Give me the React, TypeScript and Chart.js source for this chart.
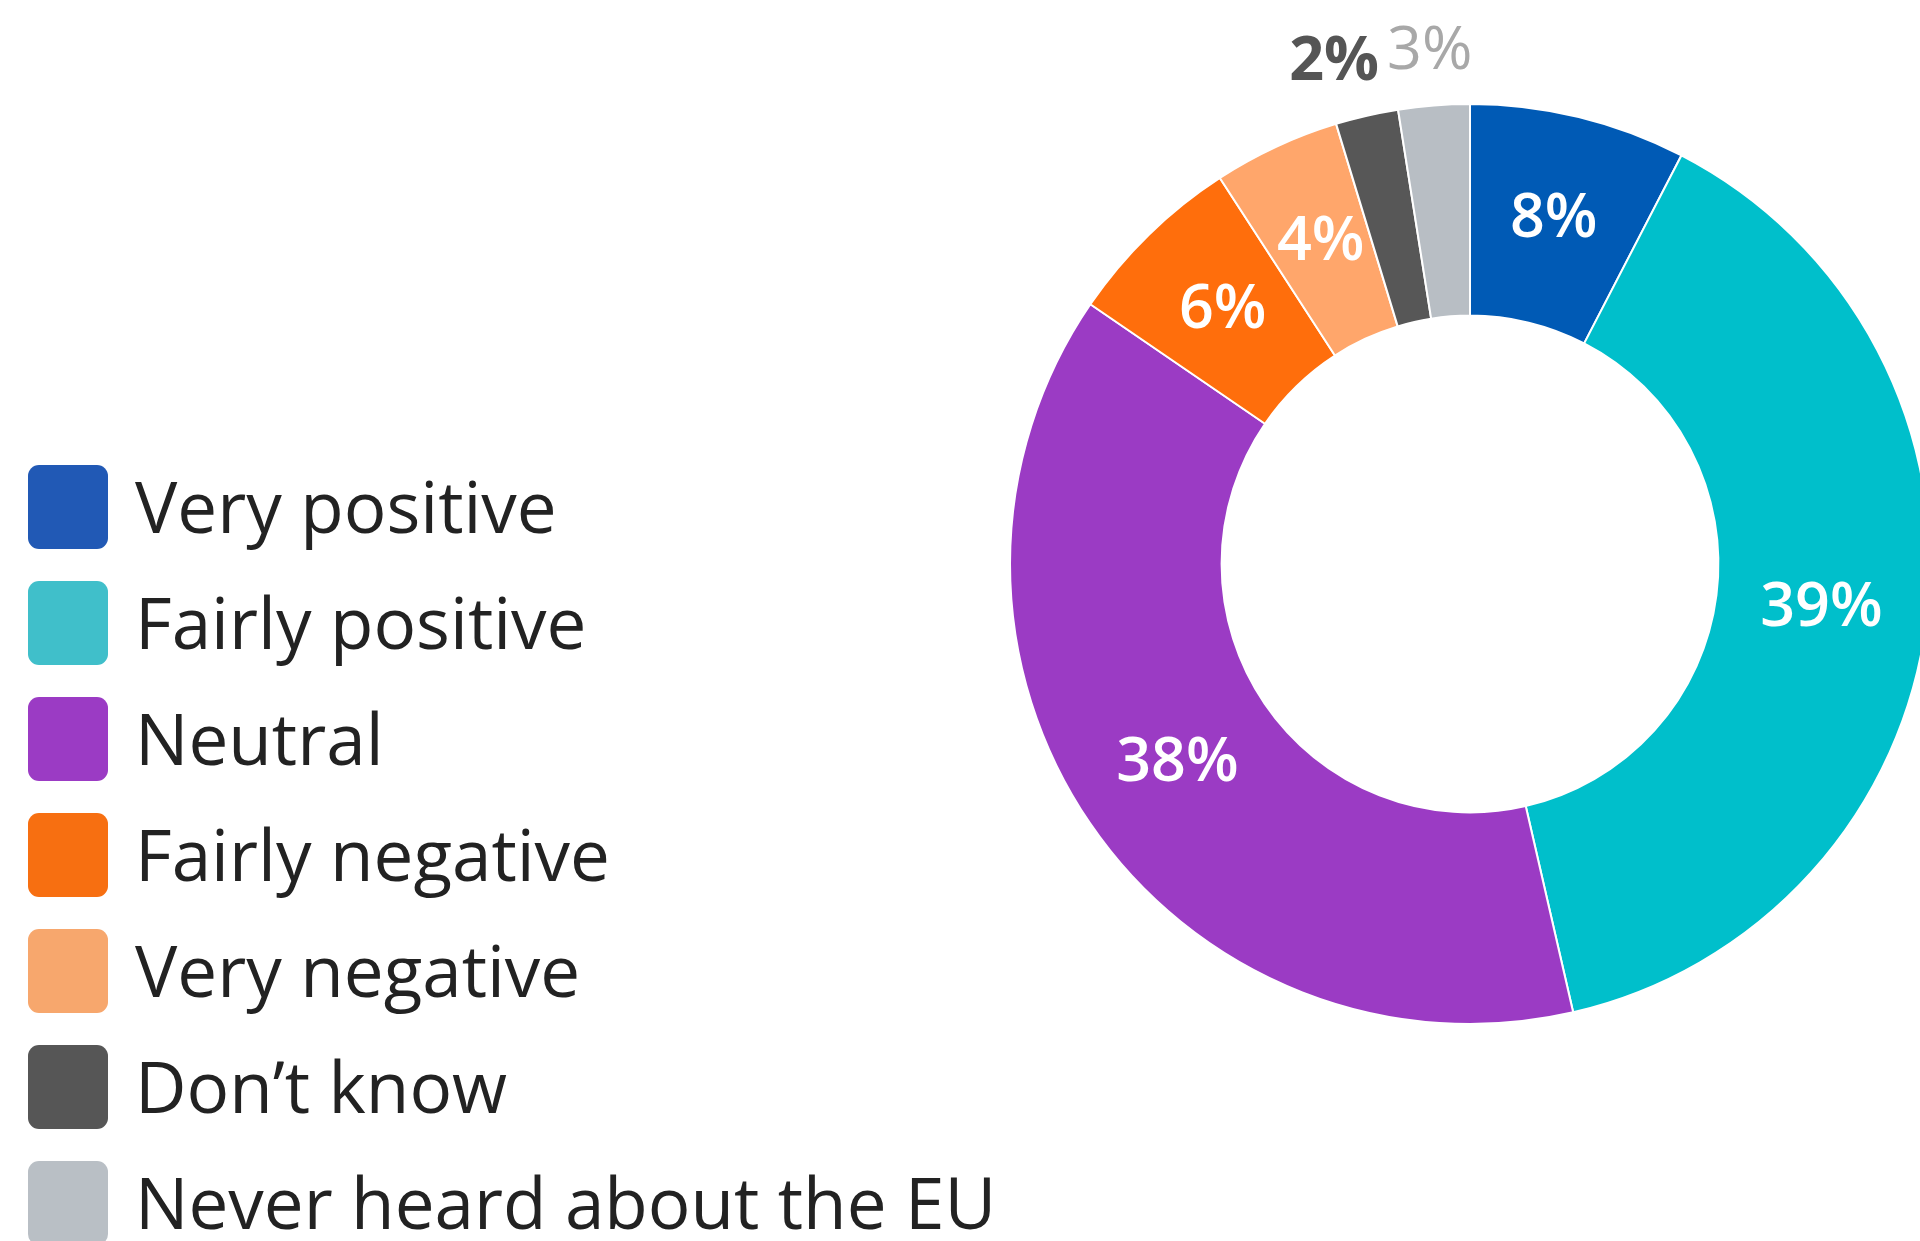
import React, { useEffect, useRef } from "react";
import { Chart, registerables } from "chart.js";

Chart.register(...registerables);

const categories = [
  "Very positive",
  "Fairly positive",
  "Neutral",
  "Fairly negative",
  "Very negative",
  "Don’t know",
  "Never heard about the EU",
];
// arc sizes
const shares = [7.6, 38.8, 38.15, 6.3, 4.45, 2.2, 2.5];
// printed percentage labels
const shareLabels = [8, 39, 38, 6, 4, 2, 3];
const sliceColors = ["#005AB5", "#00BFCB", "#9B3BC4", "#FF6E0C", "#FFA66B", "#575757", "#B8BEC4"];
const legendColors = ["#2159B5", "#40BFCA", "#9B3BC4", "#F76F11", "#F7A76D", "#565656", "#B9BFC5"];
const valueLabelColors = ["#FFFFFF", "#FFFFFF", "#FFFFFF", "#FFFFFF", "#FFFFFF", "#555555", "#A8A8A8"];
const valueLabelWeights = [600, 600, 600, 600, 600, 700, 500];
const OUTSIDE_MAX = 3;

const CANVAS_W = 1940;
const CANVAS_H = 1241;

const valueLabelsPlugin = {
  id: "valueLabels",
  afterDatasetsDraw(chart: any) {
    const ctx = chart.ctx as CanvasRenderingContext2D;
    const meta = chart.getDatasetMeta(0);
    const items: any[] = [];
    meta.data.forEach((arc: any, i: number) => {
      const p = arc.getProps(["x", "y", "startAngle", "endAngle", "innerRadius", "outerRadius"], true);
      const mid = (p.startAngle + p.endAngle) / 2;
      const txt = `${shareLabels[i]}%`;
      const outside = shareLabels[i] <= OUTSIDE_MAX;
      const r = outside ? p.outerRadius + 54 : (p.innerRadius + p.outerRadius) / 2;
      ctx.font = `${valueLabelWeights[i]} 61px "Open Sans", sans-serif`;
      const w = ctx.measureText(txt).width;
      items.push({
        i,
        txt,
        outside,
        w,
        x: p.x + Math.cos(mid) * r,
        y: p.y + Math.sin(mid) * r,
      });
    });
    // simple collision avoidance for outside labels: push earlier ones left
    const outs = items.filter((it) => it.outside);
    for (let k = outs.length - 2; k >= 0; k--) {
      const a = outs[k];
      const b = outs[k + 1];
      const gap = 8;
      const overlap = a.x + a.w / 2 + gap - (b.x - b.w / 2);
      if (overlap > 0 && Math.abs(a.y - b.y) < 60) a.x -= overlap;
    }
    items.forEach((it) => {
      ctx.save();
      ctx.font = `${valueLabelWeights[it.i]} 61px "Open Sans", sans-serif`;
      ctx.fillStyle = valueLabelColors[it.i];
      ctx.textAlign = "center";
      ctx.textBaseline = "middle";
      ctx.fillText(it.txt, it.x, it.y);
      ctx.restore();
    });
  },
};

const legendPlugin = {
  id: "sideLegend",
  afterDraw(chart: any) {
    const ctx = chart.ctx as CanvasRenderingContext2D;
    const labels = chart.data.labels as string[];
    const startY = 507;
    const step = 116;
    labels.forEach((lab, i) => {
      const cy = startY + i * step;
      ctx.save();
      ctx.fillStyle = legendColors[i];
      ctx.beginPath();
      (ctx as any).roundRect(28, cy - 42, 80, 84, 11);
      ctx.fill();
      ctx.fillStyle = "#222222";
      ctx.font = `400 71px "Open Sans", sans-serif`;
      ctx.textAlign = "left";
      ctx.textBaseline = "alphabetic";
      ctx.fillText(lab, 135, cy + 26);
      ctx.restore();
    });
  },
};

export default function App() {
  const canvasRef = useRef<HTMLCanvasElement | null>(null);

  useEffect(() => {
    if (!canvasRef.current) return;
    const chart = new Chart(canvasRef.current, {
      type: "doughnut",
      data: {
        labels: categories,
        datasets: [
          {
            data: shares,
            backgroundColor: sliceColors,
            borderColor: "#FFFFFF",
            borderWidth: 2,
            hoverOffset: 0,
          },
        ],
      },
      options: {
        animation: false,
        responsive: false,
        devicePixelRatio: 1,
        cutout: "54%",
        rotation: 0,
        layout: {
          padding: { left: 1009, right: 9, top: 103, bottom: 216 },
        },
        plugins: {
          legend: { display: false },
          tooltip: { enabled: false },
        },
      },
      plugins: [valueLabelsPlugin, legendPlugin],
    });
    return () => chart.destroy();
  }, []);

  return (
    <div
      style={{
        position: "fixed",
        left: 0,
        top: 0,
        width: 1920,
        height: 1241,
        overflow: "hidden",
        background: "#FFFFFF",
      }}
    >
      <canvas
        ref={canvasRef}
        width={CANVAS_W}
        height={CANVAS_H}
        style={{ width: CANVAS_W, height: CANVAS_H, display: "block" }}
      />
    </div>
  );
}
